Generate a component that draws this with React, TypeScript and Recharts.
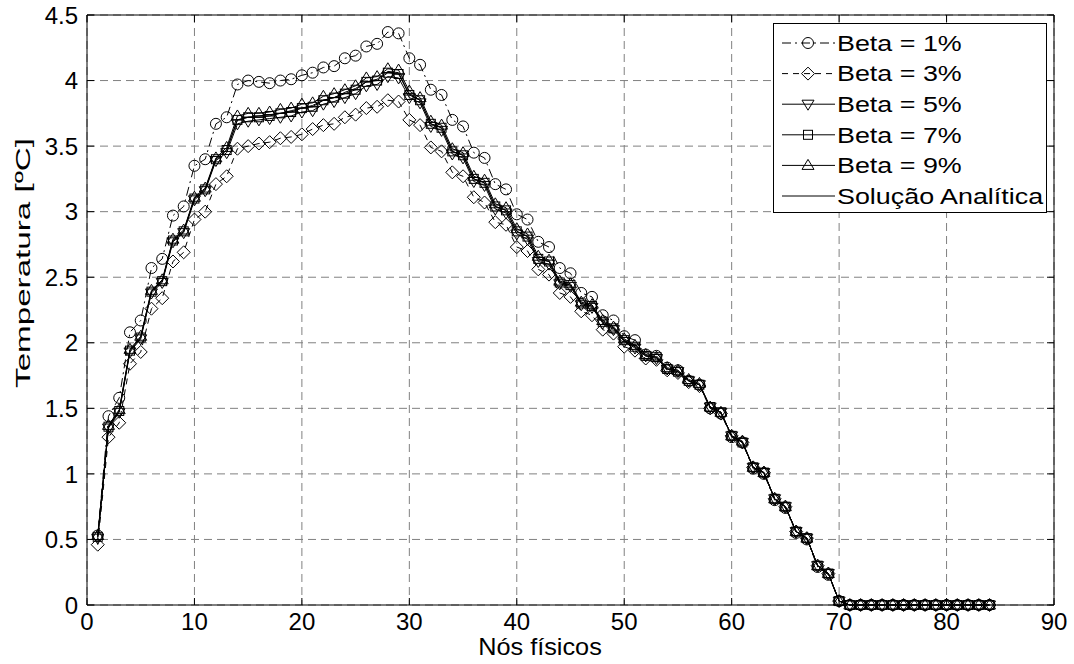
import { LineChart, Line, XAxis, YAxis, CartesianGrid, Legend } from 'recharts'

// physical nodes (x axis)
const nodes = [
  1, 2, 3, 4, 5, 6, 7, 8, 9, 10, 11, 12, 13, 14, 15, 16, 17, 18, 19, 20,
  21, 22, 23, 24, 25, 26, 27, 28, 29, 30, 31, 32, 33, 34, 35, 36, 37, 38, 39, 40,
  41, 42, 43, 44, 45, 46, 47, 48, 49, 50, 51, 52, 53, 54, 55, 56, 57, 58, 59, 60,
  61, 62, 63, 64, 65, 66, 67, 68, 69, 70, 71, 72, 73, 74, 75, 76, 77, 78, 79, 80,
  81, 82, 83, 84,
]

const beta1 = [
  0.53, 1.44, 1.58, 2.08, 2.17, 2.57, 2.64, 2.97, 3.04, 3.35,
  3.40, 3.67, 3.72, 3.97, 4.00, 3.99, 3.98, 4.00, 4.01, 4.04,
  4.06, 4.10, 4.11, 4.17, 4.19, 4.26, 4.28, 4.37, 4.36, 4.17,
  4.12, 3.93, 3.89, 3.70, 3.65, 3.45, 3.41, 3.21, 3.17, 2.98,
  2.94, 2.77, 2.73, 2.57, 2.53, 2.38, 2.35, 2.21, 2.17, 2.05,
  2.02, 1.91, 1.90, 1.81, 1.79, 1.71, 1.68, 1.50, 1.46, 1.28,
  1.24, 1.04, 1.00, 0.80, 0.74, 0.55, 0.50, 0.29, 0.23, 0.03,
  0, 0, 0, 0, 0, 0, 0, 0, 0, 0, 0, 0, 0, 0,
]

const beta3 = [
  0.46, 1.28, 1.39, 1.84, 1.93, 2.26, 2.34, 2.62, 2.69, 2.94,
  3.00, 3.21, 3.27, 3.48, 3.50, 3.52, 3.53, 3.56, 3.57, 3.59,
  3.63, 3.66, 3.67, 3.72, 3.74, 3.79, 3.80, 3.85, 3.84, 3.70,
  3.66, 3.49, 3.46, 3.30, 3.27, 3.11, 3.07, 2.92, 2.90, 2.73,
  2.70, 2.56, 2.52, 2.38, 2.35, 2.24, 2.21, 2.10, 2.07, 1.97,
  1.94, 1.88, 1.87, 1.79, 1.77, 1.70, 1.67, 1.50, 1.46, 1.29,
  1.24, 1.05, 1.01, 0.81, 0.75, 0.56, 0.51, 0.30, 0.24, 0.03,
  0, 0, 0, 0, 0, 0, 0, 0, 0, 0, 0, 0, 0, 0,
]

const beta5 = [
  0.51, 1.35, 1.47, 1.93, 2.03, 2.38, 2.46, 2.77, 2.84, 3.09,
  3.16, 3.39, 3.45, 3.67, 3.69, 3.70, 3.71, 3.72, 3.73, 3.76,
  3.77, 3.82, 3.84, 3.87, 3.90, 3.96, 3.97, 4.03, 4.02, 3.87,
  3.83, 3.65, 3.62, 3.44, 3.41, 3.23, 3.20, 3.02, 2.99, 2.83,
  2.79, 2.62, 2.60, 2.45, 2.43, 2.29, 2.27, 2.15, 2.10, 2.01,
  1.96, 1.90, 1.88, 1.80, 1.78, 1.71, 1.68, 1.51, 1.47, 1.29,
  1.24, 1.05, 1.01, 0.81, 0.75, 0.56, 0.51, 0.30, 0.24, 0.03,
  0, 0, 0, 0, 0, 0, 0, 0, 0, 0, 0, 0, 0, 0,
]

const beta7 = [
  0.52, 1.36, 1.48, 1.94, 2.04, 2.39, 2.47, 2.78, 2.85, 3.10,
  3.17, 3.40, 3.47, 3.70, 3.72, 3.72, 3.73, 3.75, 3.76, 3.79,
  3.80, 3.85, 3.87, 3.90, 3.93, 3.99, 4.00, 4.06, 4.05, 3.89,
  3.85, 3.67, 3.64, 3.46, 3.43, 3.25, 3.22, 3.04, 3.01, 2.85,
  2.81, 2.64, 2.62, 2.46, 2.44, 2.30, 2.28, 2.16, 2.11, 2.02,
  1.97, 1.90, 1.89, 1.80, 1.78, 1.71, 1.68, 1.51, 1.47, 1.29,
  1.24, 1.05, 1.01, 0.81, 0.75, 0.56, 0.51, 0.30, 0.24, 0.03,
  0, 0, 0, 0, 0, 0, 0, 0, 0, 0, 0, 0, 0, 0,
]

const beta9 = [
  0.53, 1.37, 1.49, 1.95, 2.05, 2.40, 2.48, 2.79, 2.86, 3.11,
  3.18, 3.41, 3.49, 3.73, 3.75, 3.75, 3.76, 3.78, 3.79, 3.82,
  3.83, 3.88, 3.90, 3.93, 3.96, 4.02, 4.03, 4.09, 4.08, 3.92,
  3.87, 3.69, 3.66, 3.48, 3.45, 3.27, 3.24, 3.06, 3.03, 2.87,
  2.83, 2.66, 2.63, 2.47, 2.45, 2.31, 2.29, 2.17, 2.12, 2.03,
  1.98, 1.91, 1.89, 1.81, 1.79, 1.72, 1.69, 1.51, 1.47, 1.29,
  1.25, 1.05, 1.01, 0.81, 0.75, 0.56, 0.51, 0.30, 0.24, 0.03,
  0, 0, 0, 0, 0, 0, 0, 0, 0, 0, 0, 0, 0, 0,
]

const analytic = [
  0.52, 1.36, 1.48, 1.94, 2.04, 2.39, 2.47, 2.78, 2.85, 3.10,
  3.17, 3.40, 3.47, 3.70, 3.72, 3.73, 3.74, 3.75, 3.77, 3.79,
  3.81, 3.85, 3.87, 3.91, 3.94, 3.99, 4.01, 4.07, 4.06, 3.90,
  3.85, 3.67, 3.64, 3.46, 3.43, 3.25, 3.22, 3.04, 3.01, 2.85,
  2.81, 2.64, 2.62, 2.46, 2.44, 2.30, 2.28, 2.16, 2.11, 2.02,
  1.97, 1.90, 1.89, 1.80, 1.78, 1.71, 1.68, 1.51, 1.47, 1.29,
  1.24, 1.05, 1.01, 0.81, 0.75, 0.56, 0.51, 0.30, 0.24, 0.03,
  0, 0, 0, 0, 0, 0, 0, 0, 0, 0, 0, 0, 0, 0,
]

const xTicks = [0, 10, 20, 30, 40, 50, 60, 70, 80, 90]
const yTicks = [0, 0.5, 1, 1.5, 2, 2.5, 3, 3.5, 4, 4.5]

const data = nodes.map((n, i) => ({
  n,
  b1: beta1[i],
  b3: beta3[i],
  b5: beta5[i],
  b7: beta7[i],
  b9: beta9[i],
  an: analytic[i],
}))

const FONT = '"Liberation Sans", Arial, Helvetica, sans-serif'

type MarkerKind = 'circle' | 'diamond' | 'down' | 'square' | 'up' | 'none'

function Marker({ kind, cx, cy }: { kind: MarkerKind; cx: number; cy: number }) {
  const common = { fill: 'none', stroke: '#000', strokeWidth: 1 }
  if (kind === 'circle') return <circle cx={cx} cy={cy} r={5.5} {...common} />
  if (kind === 'diamond')
    return <polygon points={`${cx},${cy - 6.5} ${cx + 6.5},${cy} ${cx},${cy + 6.5} ${cx - 6.5},${cy}`} {...common} />
  if (kind === 'down')
    return <polygon points={`${cx - 6},${cy - 4} ${cx + 6},${cy - 4} ${cx},${cy + 6}`} {...common} />
  if (kind === 'up')
    return <polygon points={`${cx - 6},${cy + 4} ${cx + 6},${cy + 4} ${cx},${cy - 6}`} {...common} />
  if (kind === 'square') return <rect x={cx - 4.5} y={cy - 4.5} width={9} height={9} {...common} />
  return null
}

const dotOf = (kind: MarkerKind) => (p: any) => (
  <g key={`${kind}-${p.index}`}>
    <Marker kind={kind} cx={p.cx} cy={p.cy} />
  </g>
)

const SERIES: { key: string; label: string; marker: MarkerKind; dash?: string }[] = [
  { key: 'b1', label: 'Beta = 1%', marker: 'circle', dash: '9 4 2 4' },
  { key: 'b3', label: 'Beta = 3%', marker: 'diamond', dash: '6 5' },
  { key: 'b5', label: 'Beta = 5%', marker: 'down' },
  { key: 'b7', label: 'Beta = 7%', marker: 'square' },
  { key: 'b9', label: 'Beta = 9%', marker: 'up' },
  { key: 'an', label: 'Solução Analítica', marker: 'none' },
]

function LegendBox() {
  return (
    <svg width={274} height={190} style={{ display: 'block' }}>
      <rect x={0.5} y={0.5} width={273} height={189} fill="#fff" stroke="#000" />
      {SERIES.map((s, i) => {
        const y = 20 + i * 30.6
        return (
          <g key={s.key}>
            <line x1={9} x2={62} y1={y} y2={y} stroke="#000" strokeDasharray={s.dash} />
            <Marker kind={s.marker} cx={35} cy={y} />
            <g transform={`translate(64,${y}) scale(1.25,1)`}>
              <text x={0} y={0} dy="0.36em" fontSize={21.5} fontFamily={FONT} fill="#000">
                {s.label}
              </text>
            </g>
          </g>
        )
      })}
    </svg>
  )
}

const XTick = (props: any) => (
  <text x={props.x} y={props.y} dy="0.74em" textAnchor="middle" fontSize={24} fontFamily={FONT} fill="#000">
    {props.payload.value}
  </text>
)

const YTick = (props: any) => (
  <text x={props.x} y={props.y} dy="0.36em" textAnchor="end" fontSize={24} fontFamily={FONT} fill="#000">
    {props.payload.value}
  </text>
)

const XTitle = () => (
  <g transform="translate(540,655) scale(1.1,1)">
    <text x={0} y={0} textAnchor="middle" fontSize={23} fontFamily={FONT} fill="#000">
      Nós físicos
    </text>
  </g>
)

const YTitle = () => (
  <g transform="translate(30,263) rotate(-90) scale(1.58,1)">
    <text x={0} y={0} textAnchor="middle" fontSize={21} fontFamily={FONT} fill="#000">
      Temperatura [ºC]
    </text>
  </g>
)

const none = () => <g />

export default function App() {
  return (
    <div style={{ width: 1074, height: 664, background: '#fff' }}>
      <style>{'body{margin:0;background:#fff}'}</style>
      <LineChart width={1074} height={664} data={data} margin={{ top: 15, right: 20, bottom: 0, left: 0 }}>
        <CartesianGrid xAxisId="b" yAxisId="l" stroke="#808080" strokeDasharray="8 5" />
        <XAxis
          xAxisId="b"
          dataKey="n"
          type="number"
          domain={[0, 90]}
          ticks={xTicks}
          interval={0}
          height={59}
          tickSize={0}
          tickMargin={7}
          tickLine={false}
          axisLine={{ stroke: '#000' }}
          tick={<XTick />}
          label={<XTitle />}
        />
        <XAxis
          xAxisId="bm"
          dataKey="n"
          type="number"
          domain={[0, 90]}
          allowDataOverflow
          ticks={xTicks}
          interval={0}
          mirror
          tickSize={7}
          axisLine={false}
          tickLine={{ stroke: '#000' }}
          tick={none}
        />
        <XAxis
          xAxisId="t"
          orientation="top"
          dataKey="n"
          type="number"
          domain={[0, 90]}
          allowDataOverflow
          ticks={xTicks}
          interval={0}
          mirror
          tickSize={7}
          axisLine={{ stroke: '#000' }}
          tickLine={{ stroke: '#000' }}
          tick={none}
        />
        <YAxis
          yAxisId="l"
          type="number"
          domain={[0, 4.5]}
          ticks={yTicks}
          interval={0}
          width={87}
          tickSize={0}
          tickMargin={9}
          tickLine={false}
          axisLine={{ stroke: '#000' }}
          tick={<YTick />}
          label={<YTitle />}
        />
        <YAxis
          yAxisId="lm"
          type="number"
          domain={[0, 4.5]}
          allowDataOverflow
          ticks={yTicks}
          interval={0}
          mirror
          tickSize={7}
          axisLine={false}
          tickLine={{ stroke: '#000' }}
          tick={none}
        />
        <YAxis
          yAxisId="r"
          orientation="right"
          type="number"
          domain={[0, 4.5]}
          allowDataOverflow
          ticks={yTicks}
          interval={0}
          mirror
          tickSize={7}
          axisLine={{ stroke: '#000' }}
          tickLine={{ stroke: '#000' }}
          tick={none}
        />
        {SERIES.map((s) => (
          <Line
            key={s.key}
            xAxisId="b"
            yAxisId="l"
            type="linear"
            dataKey={s.key}
            name={s.label}
            stroke="#000"
            strokeWidth={1}
            strokeDasharray={s.dash}
            dot={s.marker === 'none' ? false : dotOf(s.marker)}
            activeDot={false}
            isAnimationActive={false}
          />
        ))}
        <Legend
          layout="vertical"
          align="center"
          verticalAlign="middle"
          content={<LegendBox />}
          wrapperStyle={{ left: 773, top: 23, width: 274, height: 190 }}
        />
      </LineChart>
    </div>
  )
}
